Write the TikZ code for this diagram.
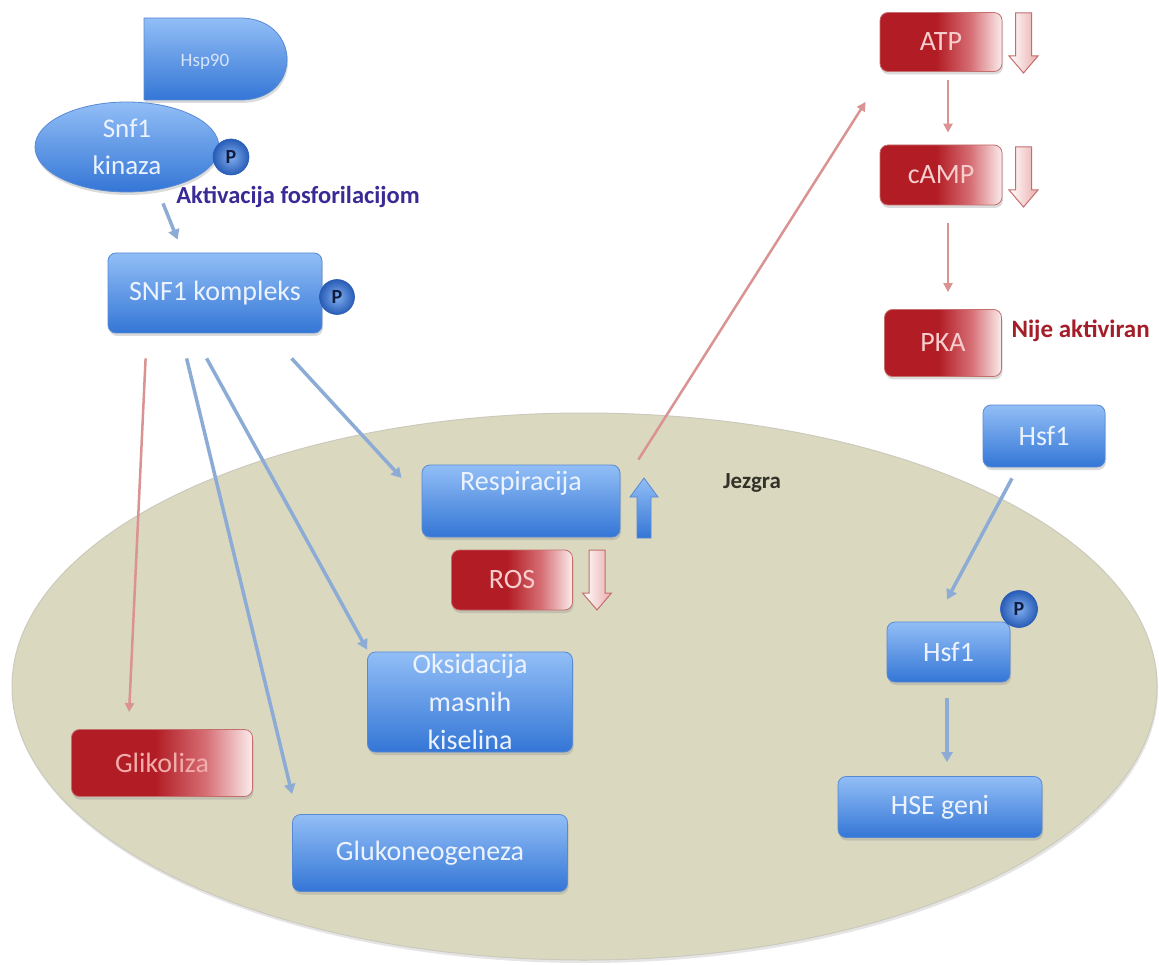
\documentclass[tikz,border=0pt]{standalone}
\usepackage{fontspec}
\setmainfont{Carlito}
\usetikzlibrary{shapes.geometric,arrows.meta,calc,shadows}

\definecolor{bTop}{RGB}{146,190,246}
\definecolor{bBot}{RGB}{52,118,214}
\definecolor{bLine}{RGB}{88,138,212}
\definecolor{bText}{RGB}{236,243,255}
\definecolor{hspText}{RGB}{214,228,250}
\definecolor{rDark}{RGB}{178,28,36}
\definecolor{rMid}{RGB}{214,110,116}
\definecolor{rLight}{RGB}{251,236,236}
\definecolor{rLine}{RGB}{196,110,110}
\definecolor{rText}{RGB}{248,205,205}
\definecolor{gText}{RGB}{242,172,172}
\definecolor{nucFill}{RGB}{219,216,192}
\definecolor{nucLine}{RGB}{204,202,188}
\definecolor{bArrow}{RGB}{140,172,214}
\definecolor{rArrow}{RGB}{218,146,146}
\definecolor{aktiv}{RGB}{58,42,150}
\definecolor{nije}{RGB}{164,30,42}
\definecolor{pinkFill}{RGB}{234,172,172}
\definecolor{pText}{RGB}{16,28,64}
\definecolor{pIn}{RGB}{130,175,240}
\definecolor{pOut}{RGB}{40,92,182}
\definecolor{jez}{RGB}{50,50,40}

\pgfdeclarehorizontalshading{redfade}{100bp}{color(0bp)=(rDark); color(25bp)=(rDark); color(48bp)=(rDark); color(62bp)=(rMid); color(75bp)=(rLight); color(100bp)=(rLight)}

\tikzset{
  softshadow/.style={drop shadow={shadow xshift=1pt, shadow yshift=-3pt, opacity=0.28}},
  btext/.style={text=bText, font=\fontsize{28}{38}\selectfont},
  bluebox/.style={rectangle, rounded corners=8pt, draw=bLine, line width=0.8pt,
    top color=bTop, bottom color=bBot, text=bText, font=\fontsize{28}{38}\selectfont,
    inner sep=0pt, softshadow},
  redbox/.style={rectangle, rounded corners=8pt, draw=rLine, line width=0.8pt,
    shade, shading=redfade, text=rText, font=\fontsize{28}{38}\selectfont,
    inner sep=0pt, softshadow},
  pball/.style={circle, inner color=pIn, outer color=pOut, draw=pOut, line width=0.6pt,
    minimum size=36pt, inner sep=0pt, text=pText, font=\bfseries\fontsize{20}{20}\selectfont},
  barrow/.style={draw=bArrow, line width=3.5pt, -{Triangle[width=11pt,length=10pt]}},
  rarrow/.style={draw=rArrow, line width=2.5pt, -{Triangle[width=9pt,length=9pt]}},
  pinkblk/.style={draw=rLine, line width=1pt, left color=white, right color=pinkFill},
  blueblk/.style={draw=bLine, line width=0.8pt, top color=bTop, bottom color=bBot},
  downblk/.pic={\path[pic actions] (-8,0) -- (8,0) -- (8,43) -- (14.5,43) -- (0,60) -- (-14.5,43) -- (-8,43) -- cycle;},
  upblk/.pic={\path[pic actions] (-7,60) -- (7,60) -- (7,19) -- (14,19) -- (0,0) -- (-14,19) -- (-7,19) -- cycle;}
}

\begin{document}
\begin{tikzpicture}[x=1pt,y=-1pt]
\useasboundingbox (0,0) rectangle (1159,965);
\fill[white] (0,0) rectangle (1159,965);

% nucleus
\node[ellipse, minimum width=1145pt, minimum height=547pt, inner sep=0pt,
  fill=nucFill, draw=nucLine, line width=1pt,
  drop shadow={shadow xshift=1pt, shadow yshift=-3pt, opacity=0.2}] (nucleus) at (584.5,686.5) {};
\node[text=jez, font=\bfseries\fontsize{23}{23}\selectfont] (jezgra) at (752,483) {Jezgra};

% Hsp90
\path[top color=bTop, bottom color=bBot, draw=bLine, line width=0.8pt, softshadow]
  (144,18) -- (240,18) .. controls (272,18) and (287,40) .. (287,59)
  .. controls (287,80) and (272,100) .. (240,100) -- (144,100) -- cycle;
\node[text=hspText, font=\fontsize{19}{19}\selectfont] (hsp) at (205,62) {Hsp90};

% Snf1 kinaza
\node[bluebox, ellipse, minimum width=184pt, minimum height=90pt, align=center,
  font=\fontsize{27}{37}\selectfont] (kin) at (127,147) {Snf1\\kinaza};
\node[pball] (p1) at (231,157) {P};
\node[text=aktiv, font=\bfseries\fontsize{24.5}{24.5}\selectfont] (akt) at (298,197) {Aktivacija fosforilacijom};

% SNF1 kompleks
\node[bluebox, minimum width=214pt, minimum height=80pt] (kompleks) at (215,293) {SNF1 kompleks};
\node[pball, minimum size=35pt] (p2) at (337,297) {P};

% nucleus boxes
\node[bluebox, minimum width=198pt, minimum height=72pt,
  label={[btext, yshift=18pt]center:Respiracija}] (resp) at (521,501) {};
\node[redbox, minimum width=121pt, minimum height=60pt] (ros) at (512,580) {ROS};
\node[bluebox, minimum width=205pt, minimum height=100pt,
  label={[btext, align=center]center:Oksidacija\\masnih\\kiselina}] (oks) at (470,702) {};
\node[redbox, minimum width=181pt, minimum height=67pt, text=gText] (glik) at (162,763) {Glikoliza};
\node[bluebox, minimum width=275pt, minimum height=77pt] (gluk) at (430,853) {Glukoneogeneza};

% block arrows
\pic[blueblk] at (644,478) {upblk};
\pic[pinkblk] at (597,550) {downblk};
\pic[pinkblk] at (1023.5,13) {downblk};
\pic[pinkblk] at (1023.5,147) {downblk};

% right column
\node[redbox, minimum width=122pt, minimum height=59pt] (atp) at (941,42) {ATP};
\node[redbox, minimum width=122pt, minimum height=60pt] (camp) at (941,175) {cAMP};
\node[redbox, minimum width=117pt, minimum height=67pt] (pka) at (943,343) {PKA};
\node[text=nije, font=\bfseries\fontsize{25}{25}\selectfont, anchor=west] (nije) at (1008,331) {Nije aktiviran};

\node[bluebox, minimum width=122pt, minimum height=62pt] (hsfa) at (1044,436) {Hsf1};
\node[bluebox, minimum width=123pt, minimum height=60pt] (hsfb) at (948.5,652) {Hsf1};
\node[pball, minimum size=37pt] (p3) at (1019,609) {P};
\node[bluebox, minimum width=204pt, minimum height=61pt] (hse) at (940,807) {HSE geni};

% connectors
\draw[barrow] ($(kin.south)+(36,11)$) -- ($(kompleks.north west)+(70,-13)$);
\draw[rarrow] ($(kompleks.south west)+(38,25)$) -- ($(glik.north west)+(58,-17)$);
\draw[barrow] ($(kompleks.south west)+(79,25)$) -- ($(gluk.north west)+(0,-20)$);
\draw[barrow] ($(kompleks.south west)+(99,25)$) -- ($(oks.north west)+(0,-2)$);
\draw[barrow] ($(kompleks.south west)+(184,25)$) -- ($(resp.west)+(-20,-23)$);
\draw[rarrow] ($(resp.north east)+(18,-5)$) -- ($(atp.south west)+(-14,30)$);
\draw[rarrow] ($(atp.south)+(7,8.5)$) -- ($(camp.north)+(7,-12)$);
\draw[rarrow] ($(camp.south)+(7,18)$) -- ($(pka.north)+(5,-17)$);
\draw[barrow] ($(hsfa.south)+(-32,11)$) -- ($(hsfb.north)+(-1.5,-22)$);
\draw[barrow] ($(hsfb.south)+(-1.5,16)$) -- ($(hse.north)+(7,-14)$);
\end{tikzpicture}
\end{document}
